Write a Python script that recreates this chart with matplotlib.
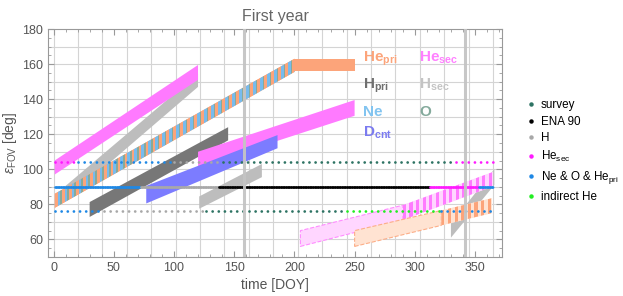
import numpy as np
import matplotlib
matplotlib.use('Agg')
import matplotlib.pyplot as plt
from matplotlib.lines import Line2D

plt.rcParams['font.family'] = ['Liberation Sans', 'DejaVu Sans']
plt.rcParams['mathtext.fontset'] = 'custom'
plt.rcParams['mathtext.rm'] = 'Liberation Sans'
plt.rcParams['mathtext.bf'] = 'Liberation Sans:bold'
plt.rcParams['mathtext.it'] = 'Liberation Sans:italic'

# colours
c_survey = '#2d7363'
c_ena = '#000000'
c_h = '#a8a8a8'
c_hesec = '#ff1aff'
c_ne = '#1e88e5'
c_ind = '#22ee22'

# observation bands: day range, lower edge, upper edge (start, end)
hesec_a_x, hesec_a_lo, hesec_a_hi = [1, 120], [97, 151], [105, 159.5]
hsec_a_x, hsec_a_lo, hsec_a_hi = [10, 120], [82, 147], [90.5, 154.5]
ne_x, ne_lo, ne_hi = [1, 200], [78, 155.5], [86, 163]
hepri_a_x, hepri_a_lo, hepri_a_hi = [200, 250], [156, 156], [163, 163]
hpri_x, hpri_lo, hpri_hi = [30, 145], [72.8, 116.5], [81.3, 124]
dcnt_x, dcnt_lo, dcnt_hi = [77, 186], [80.5, 112], [90.5, 119.5]
hesec_b_x, hesec_b_lo, hesec_b_hi = [120, 250], [101.5, 130.5], [110, 139.5]
hsec_b_x, hsec_b_lo, hsec_b_hi = [121, 173], [77.5, 95.5], [84.5, 103]
hsec_c_x, hsec_c_lo, hsec_c_hi = [330, 366], [61, 91], [69, 100]
hesec_f_x, hesec_f_lo, hesec_f_hi = [205, 290], [56, 71], [65, 79.5]
hesec_s_x, hesec_s_lo, hesec_s_hi = [290, 365], [71, 90.3], [79.5, 98.5]
hepri_f_x, hepri_f_lo, hepri_f_hi = [250, 322], [56, 68], [65, 76.5]
hepri_s_x, hepri_s_lo, hepri_s_hi = [322, 364], [68, 75], [76.5, 83.5]

# horizontal tracks: (start, end, colour)
track104 = [(1, 20, c_hesec), (20, 100, c_ne), (100, 141, c_h), (141, 334, c_survey), (334, 365, c_hesec)]
track90 = [(1, 73, c_ne), (73, 137, c_h), (137, 313, c_ena), (313, 353, c_hesec), (353, 365, c_ne)]
track76 = [(1, 42, c_ne), (42, 127, c_h), (127, 244, c_survey), (244, 322, c_ind), (322, 365, c_ne)]
track_y = [104, 90, 76]
vlines_x = [158, 342]

fig = plt.figure(figsize=(6.23, 2.96), dpi=100)
ax = fig.add_axes([0.077, 0.132, 0.729, 0.770])


def band(x, lo, hi, **kw):
    return ax.fill([x[0], x[1], x[1], x[0]], [lo[0], lo[1], hi[1], hi[0]], **kw)[0]


def stripes(poly, x, widths, colors, z):
    period = sum(widths)
    for s in np.arange(x[0], x[1], period):
        a = s
        for w, c in zip(widths, colors):
            r = ax.axvspan(a, min(a + w, x[1]), color=c, lw=0, zorder=z)
            r.set_clip_path(poly)
            a += w


band(hsec_c_x, hsec_c_lo, hsec_c_hi, color='#bdbdbd', lw=0, zorder=1)
band(hsec_a_x, hsec_a_lo, hsec_a_hi, color='#bdbdbd', lw=0, zorder=1)
band(hesec_a_x, hesec_a_lo, hesec_a_hi, color='#ff7aff', lw=0, zorder=1.2)
p = band(ne_x, ne_lo, ne_hi, color='#fca47a', lw=0, zorder=1.3)
stripes(p, ne_x, [2.4, 2.4, 1.0], ['#fca47a', '#77bbee', '#88aa99'], 1.3)
band(hepri_a_x, hepri_a_lo, hepri_a_hi, color='#fca47a', lw=0, zorder=1.3)
band(hpri_x, hpri_lo, hpri_hi, color='#777777', lw=0, zorder=1.3)
band(hesec_b_x, hesec_b_lo, hesec_b_hi, color='#ff7aff', lw=0, zorder=1.3)
band(dcnt_x, dcnt_lo, dcnt_hi, color='#7c7cff', lw=0, zorder=1.4)
band(hsec_b_x, hsec_b_lo, hsec_b_hi, color='#bdbdbd', lw=0, zorder=1.4)

band(hesec_f_x, hesec_f_lo, hesec_f_hi, facecolor='#ffd6ff', edgecolor='#ff8cff', lw=0.8, ls='--', zorder=1.5)
p = band(hesec_s_x, hesec_s_lo, hesec_s_hi, color='#ffd6ff', lw=0, zorder=1.5)
stripes(p, hesec_s_x, [2.6, 2.9], ['#ff7aff', '#ffd6ff'], 1.5)
band(hepri_f_x, hepri_f_lo, hepri_f_hi, facecolor='#ffe3d2', edgecolor='#fcae88', lw=0.8, ls='--', zorder=1.6)
p = band(hepri_s_x, hepri_s_lo, hepri_s_hi, color='#ffe3d2', lw=0, zorder=1.6)
stripes(p, hepri_s_x, [2.6, 2.9], ['#fca47a', '#ffe3d2'], 1.6)

for y, segs in zip(track_y, [track104, track90, track76]):
    gap = 0.6 if y == 90 else 2.2
    for x0, x1, c in segs:
        ax.plot([x0, x1], [y, y], color=c, lw=2.0, ls=(0, (0.01, gap)),
                dash_capstyle='round', zorder=3)

for xv in vlines_x:
    ax.axvline(xv, color='#c4c4c4', lw=2.2, alpha=0.95, zorder=4)

# band labels
lab = dict(fontsize=11, fontweight='bold', ha='left', va='baseline', zorder=5)
ax.text(256.8, 161.3, 'He$_{\\mathbf{pri}}$', color='#fca47a', **lab)
ax.text(303.8, 161.3, 'He$_{\\mathbf{sec}}$', color='#ff80ff', **lab)
ax.text(256.8, 146.1, 'H$_{\\mathbf{pri}}$', color='#707070', **lab)
ax.text(303.8, 146.1, 'H$_{\\mathbf{sec}}$', color='#c4c4c4', **lab)
ax.text(256.8, 130.3, 'Ne', color='#82c4f0', **lab)
ax.text(303.8, 130.3, 'O', color='#84aa9c', **lab)
ax.text(256.8, 118.5, 'D$_{\\mathbf{cnt}}$', color='#7b7bf0', **lab)

ax.set_xlim(-4.6, 372.5)
ax.set_ylim(50, 180)
ax.set_xticks(np.arange(0, 351, 50))
ax.set_xticks(np.arange(0, 371, 10), minor=True)
ax.set_yticks(np.arange(60, 181, 20))
ax.set_yticks(np.arange(50, 181, 5), minor=True)
for xg in np.linspace(0, 365, 19):
    ax.axvline(xg, color='#d4d4d4', lw=0.8, zorder=0)
for yg in np.arange(60, 180, 10):
    ax.axhline(yg, color='#d4d4d4', lw=0.8, zorder=0)
ax.tick_params(which='both', direction='in', top=True, right=True, color='#999999',
               labelcolor='#555555', labelsize=9)
ax.tick_params(which='major', length=4)
ax.tick_params(which='minor', length=2)
for s in ax.spines.values():
    s.set_color('#999999')

ax.set_xlabel('time [DOY]', fontsize=10, color='#555555', labelpad=3)
ax.set_ylabel('$\\varepsilon_{\\rm FOV}$ [deg]', fontsize=10, color='#555555', labelpad=2)
ax.set_title('First year', fontsize=11.5, color='#666666', pad=6)

handles = [Line2D([], [], marker='o', ls='', color=c, ms=2.2)
           for c in [c_survey, c_ena, c_h, c_hesec, c_ne, c_ind]]
labels = ['survey', 'ENA 90', 'H', 'He$_{\\rm sec}$', 'Ne & O & He$_{\\rm pri}$', 'indirect He']
fig.legend(handles, labels, loc='upper left', bbox_to_anchor=(0.846, 0.665), frameon=False,
           fontsize=8.4, handlelength=0.6, handletextpad=0.6, labelspacing=0.4,
           borderpad=0, borderaxespad=0)

fig.savefig('out.png', dpi=100)
